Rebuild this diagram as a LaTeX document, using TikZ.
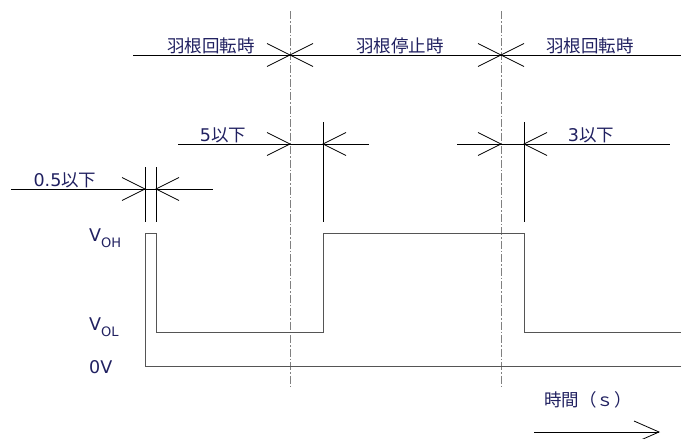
\documentclass[tikz,border=0pt]{standalone}
\usepackage{fontspec}
\setmainfont{DejaVu Sans}
\newfontfamily\cjk{Noto Sans CJK JP}
\definecolor{txt}{RGB}{32,32,96}
\definecolor{sig}{RGB}{85,85,85}
\begin{document}
\begin{tikzpicture}[x=1pt,y=-1pt,
  lbl/.style={text=txt,font=\fontsize{17.5}{18}\selectfont,inner sep=0pt},
  dim/.style={black,line width=0.8pt},
  sigline/.style={sig,line width=1pt},
  cline/.style={gray,line width=0.9pt,dash pattern=on 8pt off 2pt on 1.5pt off 2pt},
  pics/arrR/.style={code={\draw[dim] (-23,-11.5) -- (0,0) -- (-23,11.5);}},
  pics/arrL/.style={code={\draw[dim] (23,-11.5) -- (0,0) -- (23,11.5);}}]
\useasboundingbox (0,0) rectangle (683,439);
\clip (0,0) rectangle (683,439);
% coordinates
\coordinate (t1) at (290,55);
\coordinate (t2) at (501,55);
\coordinate (c1top) at (290,11);
\coordinate (c1bot) at (290,388);
\coordinate (c2top) at (501,11);
\coordinate (c2bot) at (501,388);
% center lines
\draw[cline] (c1top) -- (c1bot);
\draw[cline] (c2top) -- (c2bot);
% top line
\coordinate (topL) at (133,55);
\coordinate (topR) at (681,55);
\draw[dim] (topL) -- (topR);
\pic at (t1) {arrR}; \pic at (t1) {arrL};
\pic at (t2) {arrR}; \pic at (t2) {arrL};
\node[lbl] (rot1) at (211,46) {\cjk 羽根回転時};
\node[lbl] (stop) at (400,46) {\cjk 羽根停止時};
\node[lbl] (rot2) at (590,46) {\cjk 羽根回転時};
% 5 以下
\coordinate (aL) at (178,144);
\coordinate (aR) at (369,144);
\coordinate (a1) at (290,144);
\coordinate (a2) at (323,144);
\draw[dim] (aL) -- (aR);
\pic at (a1) {arrR}; \pic at (a2) {arrL};
\draw[dim] (323,122) -- (323,222);
\node[lbl] (five) at (223,135) {5{\cjk 以下}};
% 3 以下
\coordinate (bL) at (457,144);
\coordinate (bR) at (670,144);
\coordinate (b1) at (501,144);
\coordinate (b2) at (524,144);
\draw[dim] (bL) -- (bR);
\pic at (b1) {arrR}; \pic at (b2) {arrL};
\draw[dim] (524,122) -- (524,222);
\node[lbl] (three) at (591,135) {3{\cjk 以下}};
% 0.5 以下
\coordinate (cL) at (11,189);
\coordinate (cR) at (213,189);
\coordinate (d1) at (145,189);
\coordinate (d2) at (156,189);
\draw[dim] (cL) -- (cR);
\pic at (d1) {arrR}; \pic at (d2) {arrL};
\draw[dim] (145,167) -- (145,222);
\draw[dim] (156,167) -- (156,222);
\node[lbl] (half) at (65,180) {0.5{\cjk 以下}};
% signal
\draw[sigline] (681,366) -- (145,366) -- (145,233) -- (156,233) -- (156,332)
  -- (323,332) -- (323,233) -- (524,233) -- (524,332) -- (681,332);
% level labels
\node[lbl,anchor=base west] (voh) at (89,241) {V\raisebox{-6pt}{\fontsize{13}{14}\selectfont OH}};
\node[lbl,anchor=base west] (vol) at (89,330) {V\raisebox{-6pt}{\fontsize{13}{14}\selectfont OL}};
\node[lbl,anchor=base west] (zero) at (89,373) {0V};
% time
\node[lbl] (time) at (588,400) {\cjk 時間（ｓ）};
\coordinate (tsL) at (534,432);
\coordinate (tsR) at (659,432);
\draw[dim] (tsL) -- (tsR);
\draw[dim] (634,421) -- (tsR) -- (634,443);
\end{tikzpicture}
\end{document}
